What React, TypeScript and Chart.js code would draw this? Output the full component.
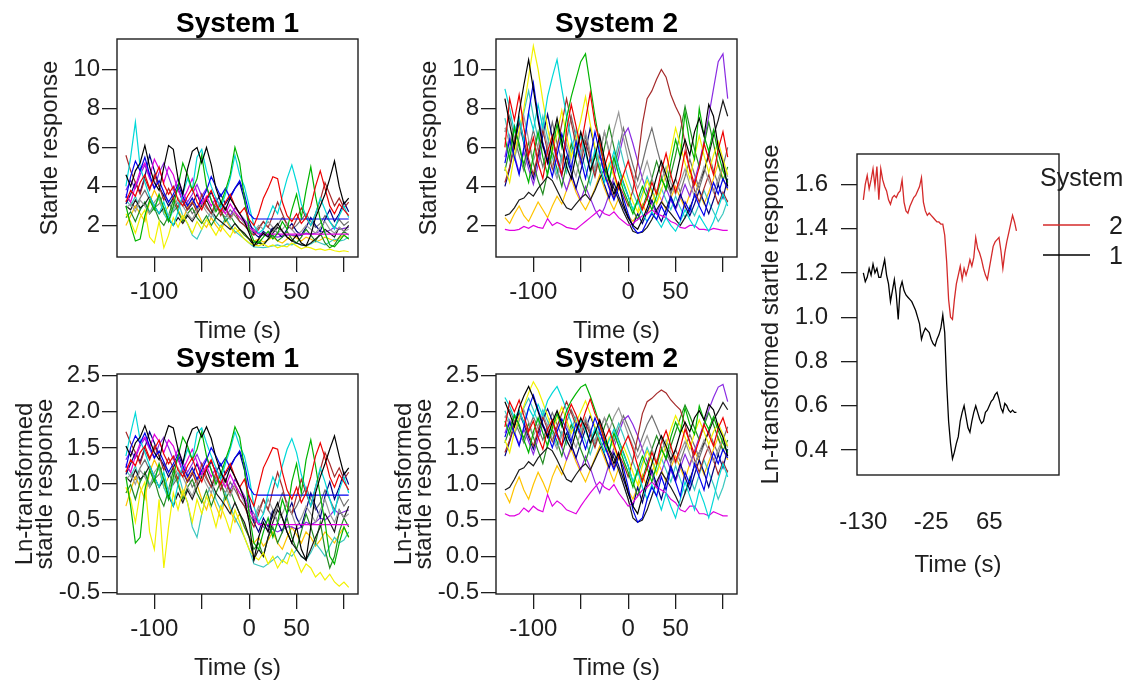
import React, { useEffect, useRef } from 'react';
import { Chart, registerables } from 'chart.js';

Chart.register(...registerables);

const PAGE_W = 1134;
const PAGE_H = 682;
const FONT = "'Liberation Sans', Arial, Helvetica, sans-serif";
const TEXT = '#1e1e1e';

// ---------- time axes ----------
const timePoints = [
  -130, -125, -120, -115, -110, -105, -100, -95, -90, -85, -80, -75, -70, -65, -60, -55,
  -50, -45, -40, -35, -30, -25, -20, -15, -10, -5, 0, 5, 10, 15, 20, 25, 30, 35, 40, 45,
  50, 55, 60, 65, 70, 75, 80, 85, 90, 95, 100, 105,
];

const meanTime = [
  -130, -127, -124, -121, -118, -115, -112, -109, -106, -103, -100, -97, -94, -91, -88, -85,
  -82, -79, -76, -73, -70, -67, -64, -61, -58, -55, -52, -49, -46, -43, -40, -37, -34, -31,
  -28, -25, -22, -19, -16, -13, -10, -7, -4, -1, 2, 5, 8, 11, 14, 17, 20, 23, 26, 29, 32, 35,
  38, 41, 44, 47, 50, 53, 56, 59, 62, 65, 68, 71, 74, 77, 80, 83, 86, 89, 92, 95, 98, 101, 104, 107,
];

// ---------- System 1 subjects (startle response) ----------
const s1_01 = [4.6,4.0,4.8,5.2,6.1,5.0,4.2,3.8,5.0,6.1,5.9,4.4,3.6,4.9,5.8,6.0,5.2,6.0,5.1,3.9,3.2,2.8,3.4,3.0,2.6,2.2,1.6,0.95,1.3,1.6,1.4,1.8,2.1,1.7,1.4,1.2,1.5,1.1,0.95,1.5,2.4,3.0,3.6,4.4,5.3,4.0,3.1,3.4];
const s1_02 = [3.2,3.8,3.5,4.2,4.6,3.9,4.4,5.0,4.1,3.6,4.0,3.3,3.0,3.5,3.9,3.2,2.8,3.4,3.8,3.1,2.7,3.2,3.6,3.0,2.6,2.9,2.3,2.0,2.6,3.4,3.9,4.5,4.4,3.2,2.5,2.2,2.6,2.1,2.4,3.0,4.0,4.8,3.9,3.0,2.6,3.1,2.8,2.5];
const s1_03 = [3.0,2.0,1.2,1.3,2.5,3.3,2.8,3.6,2.9,2.2,3.0,4.0,5.2,4.6,3.8,4.4,5.6,4.0,3.3,2.7,3.1,3.8,4.6,6.0,5.2,3.4,1.8,1.2,1.1,1.4,1.7,1.3,1.6,2.2,1.8,2.8,3.6,2.4,3.8,5.0,3.5,2.3,1.6,1.0,0.9,1.2,1.5,1.3];
const s1_04 = [3.4,4.5,5.3,4.8,5.5,4.6,3.9,4.3,3.7,3.2,3.6,4.1,3.5,3.0,3.4,2.9,3.3,3.8,4.5,4.0,3.5,3.9,3.4,3.9,4.3,3.6,2.6,2.35,2.33,2.33,2.33,2.33,2.33,2.33,2.33,2.33,2.33,2.33,2.33,2.33,2.33,2.33,2.33,2.33,2.33,2.33,2.33,2.33];
const s1_05 = [4.0,5.5,7.3,5.0,4.2,3.5,3.0,2.6,3.2,2.4,2.0,2.7,3.6,4.4,3.8,5.5,5.9,4.8,4.0,3.4,2.9,3.6,4.4,5.6,4.6,4.0,3.0,2.0,1.6,1.8,2.4,3.0,2.6,3.5,4.4,5.1,4.2,3.1,2.5,2.0,2.6,3.4,2.8,2.2,1.8,2.5,3.0,2.4];
const s1_06 = [3.6,3.2,4.0,4.8,5.2,4.5,5.4,4.9,4.2,5.0,4.6,3.8,3.3,3.8,4.4,3.7,3.1,3.5,3.0,3.4,2.9,2.6,3.1,2.7,2.4,2.2,1.9,1.7,1.55,1.55,1.55,1.55,1.55,1.55,1.55,1.55,1.55,1.55,1.55,1.55,1.55,1.55,1.55,1.55,1.55,1.55,1.55,1.55];
const s1_07 = [2.6,2.2,1.6,2.4,2.8,1.4,1.1,2.2,0.85,1.5,2.4,1.9,2.5,2.1,1.6,2.2,1.8,2.3,1.9,1.5,2.0,1.7,1.4,1.9,1.6,1.3,1.1,1.0,0.95,1.05,0.9,1.0,0.85,0.95,0.9,1.1,0.95,0.8,0.9,0.85,0.75,0.8,0.72,0.78,0.7,0.66,0.7,0.65];
const s1_08 = [2.9,3.1,2.7,3.3,3.0,2.6,3.2,3.5,2.8,2.5,2.9,3.4,3.0,2.6,2.3,2.8,3.1,2.7,2.4,2.9,3.2,2.6,2.3,2.7,2.4,2.1,1.9,1.7,2.0,1.8,2.2,1.9,1.6,1.8,2.1,1.8,1.5,1.7,2.0,1.8,1.6,1.9,2.2,1.8,1.6,1.9,1.7,1.8];
const s1_09 = [3.0,2.8,3.3,2.9,3.1,3.5,3.0,2.6,2.9,2.3,2.0,2.4,2.1,2.5,2.2,2.6,3.0,3.3,2.8,2.4,2.2,2.0,1.8,2.1,1.8,1.6,1.3,0.95,1.1,1.0,1.3,1.6,1.9,1.7,1.4,1.2,1.1,1.0,0.95,1.1,1.3,1.5,1.8,1.6,1.4,1.9,1.7,2.0];
const s1_10 = [5.6,4.8,4.2,3.6,4.4,3.8,4.6,4.0,3.3,3.9,3.4,2.9,3.3,2.8,3.2,2.7,3.6,3.0,2.6,3.2,2.5,2.9,2.4,2.7,2.2,2.0,1.7,1.5,1.8,2.2,1.9,2.5,3.2,2.6,2.0,1.8,2.3,2.9,2.4,2.0,2.6,3.3,4.2,3.6,3.0,3.4,2.9,3.2];
const s1_11 = [2.4,2.7,2.2,2.8,3.2,2.6,2.9,2.3,2.0,2.5,3.3,2.7,2.2,2.6,2.9,2.4,2.1,2.5,2.0,2.4,2.8,2.2,2.5,2.1,1.8,1.5,1.3,1.1,1.2,1.0,1.3,1.5,1.2,1.4,1.7,1.3,1.1,1.4,1.8,1.5,1.2,1.6,1.1,0.85,1.0,1.4,1.7,1.5];
const s1_12 = [3.1,3.6,4.2,3.7,4.5,5.6,4.8,4.0,3.5,3.0,3.4,3.9,3.2,2.8,3.1,3.6,3.0,3.3,3.7,3.2,3.6,3.1,3.5,3.9,4.2,3.3,2.2,1.6,1.4,1.7,1.5,1.9,1.6,1.4,1.8,2.1,1.7,1.5,1.9,2.4,2.0,1.7,2.3,2.8,2.2,2.6,3.2,2.7];
const s1_13 = [3.3,3.0,3.5,2.8,3.2,2.7,3.0,3.4,2.6,2.2,2.8,3.2,2.5,2.1,1.5,1.3,1.8,2.3,2.7,2.2,1.9,2.4,2.0,1.7,1.5,1.3,1.1,0.9,0.88,0.86,0.9,0.95,1.0,0.92,1.05,1.0,1.1,1.0,0.95,1.05,1.2,1.1,1.0,1.15,1.3,1.2,1.25,1.4];
const s1_14 = [3.8,4.3,3.9,4.6,5.1,4.4,3.9,4.7,5.2,4.5,3.8,4.4,3.7,3.2,3.6,4.1,3.5,3.9,3.3,2.8,3.2,2.9,2.5,2.9,2.6,2.3,2.0,1.8,1.6,1.5,1.45,1.45,1.4,1.45,1.5,1.5,1.45,1.5,1.6,1.55,1.6,1.7,1.65,1.75,1.9,1.8,1.85,1.9];
const s1_15 = [2.0,2.5,3.0,2.6,2.2,3.2,3.8,3.3,2.6,3.0,3.5,2.8,2.3,2.9,3.4,2.7,2.2,1.9,2.4,2.0,1.7,2.3,1.9,1.6,1.8,1.5,1.3,1.2,1.3,1.15,1.25,1.4,1.2,1.1,1.3,1.5,1.35,1.2,1.4,1.3,1.15,1.25,1.4,1.3,1.2,1.35,1.5,1.3];
const s1_16 = [3.5,3.2,2.9,3.4,3.8,3.3,2.9,3.1,3.6,3.2,2.7,3.0,3.4,3.1,2.6,2.9,3.3,2.9,2.6,3.0,2.7,2.4,2.8,2.5,2.2,2.0,1.8,1.6,1.9,2.2,1.9,1.7,2.0,2.4,2.1,1.8,2.0,2.3,2.6,2.2,1.9,2.1,2.5,2.2,1.9,2.3,2.0,2.2];

// ---------- System 2 subjects (startle response) ----------
const s2_01 = [8.5,7.2,6.0,7.8,9.2,10.5,9.0,7.4,6.1,5.2,6.4,7.5,6.3,5.0,4.4,5.6,6.8,5.9,4.8,5.5,6.6,5.4,4.3,3.6,4.2,3.1,2.4,2.0,1.8,2.3,2.9,3.6,4.5,5.3,4.6,3.8,4.4,5.5,6.4,5.6,6.8,7.5,6.6,8.2,7.6,6.0,5.2,4.0];
const s2_02 = [6.0,8.5,7.4,8.7,7.0,5.6,6.5,5.2,4.4,5.8,6.6,5.4,4.6,6.9,8.2,7.1,6.0,7.4,8.8,7.2,6.3,5.0,5.8,4.7,3.9,4.6,5.3,4.4,3.5,2.8,3.4,4.2,3.6,4.8,5.7,4.6,3.7,4.5,5.8,4.9,4.1,5.0,6.2,5.4,4.6,5.9,6.8,5.5];
const s2_03 = [6.5,5.4,7.0,6.2,5.0,4.2,5.6,6.8,5.5,4.6,5.9,7.2,6.0,7.5,8.6,9.5,10.4,10.8,9.2,7.6,6.2,5.0,4.3,5.5,4.6,3.8,3.2,2.6,3.3,4.0,3.4,2.8,3.5,4.4,3.9,5.2,6.4,5.5,7.8,6.2,5.4,8.0,6.6,5.8,6.9,5.7,4.8,4.2];
const s2_04 = [5.2,6.4,5.5,4.6,6.0,7.8,9.3,7.6,6.2,5.4,4.5,5.6,6.7,5.8,4.9,6.3,5.4,4.4,5.5,6.8,5.7,4.6,3.9,3.3,4.0,3.4,2.6,1.9,1.6,1.7,2.2,2.6,2.3,3.0,2.5,3.4,2.8,2.3,3.2,2.7,3.6,3.0,2.5,3.4,4.2,3.6,4.4,3.9];
const s2_05 = [9.0,8.0,6.8,7.5,6.3,7.8,6.9,8.2,7.0,8.6,9.6,10.5,9.0,7.6,6.4,5.5,6.6,5.7,4.8,5.9,5.1,4.2,5.0,5.8,4.9,4.1,3.5,2.8,3.3,2.6,2.2,2.7,2.3,1.9,2.4,2.0,1.7,2.2,2.8,2.3,1.9,2.5,2.1,1.7,2.2,2.9,3.6,3.0];
const s2_06 = [1.8,1.75,1.75,1.8,1.95,1.85,2.0,1.9,1.85,2.35,2.0,2.15,2.05,1.9,1.85,1.8,2.0,2.2,2.4,2.6,2.8,2.6,2.5,2.7,2.4,2.2,2.0,2.1,2.3,2.5,2.6,2.8,2.6,2.5,2.4,2.2,2.1,1.9,1.85,2.0,2.0,1.8,1.8,1.75,1.85,1.8,1.75,1.75];
const s2_07 = [5.0,4.2,5.6,6.9,8.0,9.6,11.2,10.0,8.4,7.0,5.8,6.7,7.9,6.6,5.5,6.4,7.4,8.6,7.2,6.0,5.0,4.3,5.2,4.5,3.8,4.6,3.9,3.2,2.7,3.5,4.3,3.7,3.1,3.8,4.7,5.8,7.0,6.1,5.2,4.4,5.5,6.6,5.6,4.7,5.6,6.3,5.4,4.6];
const s2_08 = [7.0,6.2,5.4,6.5,7.6,6.4,5.3,6.1,7.2,6.0,5.1,4.4,5.3,6.2,5.2,4.5,5.6,6.8,5.8,4.9,5.7,6.8,5.7,6.9,7.8,6.5,5.4,4.6,3.9,4.5,5.3,4.4,3.7,4.3,5.0,4.2,3.6,4.2,4.9,4.1,3.5,4.2,5.0,4.3,3.7,4.4,5.1,4.5];
const s2_09 = [2.5,2.6,2.9,3.3,3.4,3.7,3.5,3.9,4.2,4.5,4.3,3.8,3.3,2.9,2.8,3.1,3.4,3.6,3.3,3.8,4.4,4.9,4.4,3.9,3.3,2.7,2.2,1.7,1.6,1.65,1.9,2.3,2.8,3.2,2.9,2.6,2.3,2.0,2.4,2.9,3.5,4.2,4.8,5.6,6.6,7.4,8.4,7.6];
const s2_10 = [4.2,5.0,6.3,7.5,6.4,5.4,4.6,5.7,6.9,5.8,4.9,6.0,7.2,8.5,7.3,6.1,5.2,6.3,5.4,4.5,5.6,4.8,4.0,3.4,4.1,3.6,3.0,3.8,5.2,7.2,8.5,8.9,9.5,10.0,9.6,8.7,8.1,7.6,6.2,4.8,3.8,3.2,3.9,4.6,3.8,3.1,3.7,3.2];
const s2_11 = [4.8,5.9,7.1,6.0,5.1,6.3,5.2,4.3,3.6,4.7,5.8,4.9,4.0,5.1,6.2,5.3,4.4,3.7,4.6,5.7,4.8,6.0,7.1,6.0,5.0,4.2,3.5,2.8,2.3,2.9,3.6,4.4,5.3,4.5,3.8,4.6,5.6,6.8,8.1,7.0,5.9,5.0,6.1,7.3,6.2,5.1,4.3,5.0];
const s2_12 = [4.0,4.9,6.1,7.3,6.2,5.2,4.4,5.5,6.6,7.7,6.5,5.5,4.6,5.5,4.7,3.9,4.8,5.8,7.0,5.9,4.9,4.1,3.4,4.2,3.5,2.9,2.4,2.0,2.6,2.1,2.7,3.3,2.7,2.2,2.8,3.5,2.9,3.6,3.0,2.5,3.1,3.8,3.2,2.6,3.3,4.1,3.4,4.4];
const s2_13 = [7.5,6.4,5.4,6.6,7.8,8.9,7.6,6.4,7.6,6.5,5.5,4.6,5.6,4.7,5.8,6.9,5.8,4.9,4.1,5.0,6.1,5.1,4.3,5.2,6.3,5.3,4.4,3.7,3.1,3.7,4.5,3.8,3.2,3.9,3.3,2.8,3.5,2.9,2.4,3.0,2.5,3.1,3.8,3.2,2.7,2.2,2.6,3.3];
const s2_14 = [5.5,6.6,5.6,4.7,5.8,4.9,4.1,5.1,6.2,5.2,6.3,5.3,4.5,3.8,4.6,3.9,3.3,4.0,3.4,2.8,2.4,2.9,3.6,4.5,5.5,6.6,7.0,6.2,5.3,4.4,3.7,3.1,2.6,3.2,3.9,3.3,2.8,3.4,4.1,3.5,4.3,5.2,6.3,7.6,9.0,10.4,10.8,8.5];
const s2_15 = [2.4,2.1,2.6,3.0,2.5,2.2,2.7,3.2,2.8,2.4,3.0,3.5,3.1,3.8,4.4,3.7,3.2,2.8,3.3,3.9,4.6,3.9,3.3,2.8,3.4,2.9,2.5,2.2,2.6,3.1,2.6,3.2,3.8,3.3,2.8,3.4,4.0,3.4,2.9,3.6,4.3,3.7,3.1,3.7,4.4,5.2,4.4,3.8];
const s2_16 = [6.8,7.6,6.5,5.6,4.8,5.8,6.9,5.9,5.0,6.1,7.3,6.2,5.3,6.4,7.6,6.5,5.5,6.6,5.6,4.7,5.7,6.8,5.8,4.9,5.9,7.0,6.0,5.1,4.3,5.2,6.2,7.0,6.0,5.1,4.3,3.6,4.4,3.7,4.5,5.4,4.6,3.9,4.7,5.7,4.8,4.1,5.0,6.0];

// ---------- group means of ln-transformed response ----------
const meanSystem2 = [1.53,1.60,1.64,1.58,1.62,1.67,1.59,1.68,1.53,1.67,1.62,1.59,1.57,1.53,1.51,1.54,1.55,1.54,1.56,1.57,1.62,1.52,1.48,1.47,1.50,1.52,1.54,1.55,1.57,1.59,1.63,1.52,1.48,1.46,1.47,1.46,1.45,1.44,1.43,1.43,1.42,1.42,1.37,1.25,1.08,1.00,0.99,1.08,1.15,1.19,1.23,1.17,1.22,1.19,1.22,1.26,1.23,1.27,1.36,1.31,1.29,1.26,1.22,1.19,1.17,1.22,1.27,1.32,1.34,1.35,1.36,1.30,1.22,1.29,1.34,1.38,1.42,1.46,1.43,1.39];
const meanSystem1 = [1.20,1.16,1.18,1.22,1.19,1.24,1.20,1.22,1.18,1.18,1.22,1.26,1.19,1.15,1.07,1.12,1.17,1.10,0.99,1.13,1.16,1.12,1.10,1.09,1.08,1.07,1.05,1.03,1.00,0.97,0.90,0.93,0.95,0.94,0.93,0.90,0.88,0.87,0.90,0.92,0.95,1.01,0.93,0.70,0.53,0.43,0.36,0.39,0.43,0.46,0.53,0.57,0.60,0.55,0.50,0.48,0.53,0.57,0.60,0.57,0.54,0.52,0.53,0.57,0.58,0.60,0.62,0.63,0.65,0.66,0.63,0.59,0.57,0.61,0.60,0.58,0.57,0.58,0.57,0.57];

const system1Subjects = [s1_01, s1_02, s1_03, s1_04, s1_05, s1_06, s1_07, s1_08, s1_09, s1_10, s1_11, s1_12, s1_13, s1_14, s1_15, s1_16];
const system2Subjects = [s2_01, s2_02, s2_03, s2_04, s2_05, s2_06, s2_07, s2_08, s2_09, s2_10, s2_11, s2_12, s2_13, s2_14, s2_15, s2_16];

const subjectColors = [
  '#000000', '#ee0000', '#00b400', '#0000ee', '#00d8d8', '#e000e0', '#f2f200', '#9a9a9a',
  '#1a1a1a', '#a52a2a', '#228b22', '#000080', '#3cc8c0', '#8a2be2', '#ffc400', '#707070',
];

// ---------- tick labels ----------
const spaghettiXTicks = [-100, -50, 0, 50, 100];
const spaghettiXLabels = ['-100', '', '0', '50', ''];
const rawYTicks = [2, 4, 6, 8, 10];
const lnYTicks = [-0.5, 0, 0.5, 1, 1.5, 2, 2.5];
const meanXTicks = [-130, -25, 65];
const meanXLabels = ['-130', '-25', '65'];
const meanYTicks = [0.4, 0.6, 0.8, 1.0, 1.2, 1.4, 1.6];
const legendTitle = 'System';
const legendLabels = ['2', '1'];
const legendColors = ['#d42a2a', '#000000'];

type Spec = {
  box: [number, number, number, number];
  datasets: any[];
  xMin: number; xMax: number; yMin: number; yMax: number;
  xTicks: number[]; xLabels: string[];
  yTicks: number[]; yFmt: (v: number) => string;
  xTickLen: number; xTickPad: number; xAxisH: number; xTitlePad: number;
  yTickLen: number; yTickPad: number; yAxisW: number; yTitlePad: number;
  yTitle: string | string[]; yTitleLH: number;
  title?: string; legend?: boolean;
};

const font = (size: number, lineHeight = 1) => ({ family: FONT, size, lineHeight });

function spaghettiSets(series: number[][], transform?: (v: number) => number) {
  return series.map((ys, i) => ({
    data: timePoints.map((t, j) => ({ x: t, y: transform ? transform(ys[j]) : ys[j] })),
    borderColor: subjectColors[i % subjectColors.length],
    borderWidth: 1.2,
    pointRadius: 0,
    tension: 0,
    fill: false,
  }));
}

function buildConfig(p: Spec): any {
  const [L, T, R, B] = p.box;
  const decor = {
    id: 'decor',
    afterDraw(chart: any) {
      const { ctx, chartArea: a } = chart;
      ctx.save();
      ctx.strokeStyle = TEXT;
      ctx.lineWidth = 1.4;
      ctx.strokeRect(a.left, a.top, a.right - a.left, a.bottom - a.top);
      if (p.title) {
        ctx.font = `bold 28px ${FONT}`;
        ctx.fillStyle = '#000';
        ctx.textAlign = 'center';
        ctx.textBaseline = 'middle';
        ctx.fillText(p.title, (a.left + a.right) / 2, a.top - 15);
      }
      if (p.legend) {
        ctx.font = `25px ${FONT}`;
        ctx.fillStyle = TEXT;
        ctx.textAlign = 'left';
        ctx.textBaseline = 'middle';
        ctx.fillText(legendTitle, 1040, 179);
        const ys = [225, 255];
        legendLabels.forEach((lab, i) => {
          ctx.strokeStyle = legendColors[i];
          ctx.lineWidth = 1.3;
          ctx.beginPath();
          ctx.moveTo(1043, ys[i]);
          ctx.lineTo(1090, ys[i]);
          ctx.stroke();
          ctx.fillStyle = TEXT;
          ctx.fillText(lab, 1109, ys[i] + 2);
        });
      }
      ctx.restore();
    },
  };
  return {
    type: 'line',
    data: { datasets: p.datasets },
    options: {
      responsive: false,
      animation: false,
      devicePixelRatio: 1,
      layout: {
        padding: { left: L - p.yAxisW, top: T, right: PAGE_W - R, bottom: PAGE_H - B - p.xAxisH },
      },
      plugins: { legend: { display: false }, tooltip: { enabled: false }, title: { display: false } },
      elements: { point: { radius: 0 } },
      scales: {
        x: {
          type: 'linear',
          position: 'bottom',
          min: p.xMin,
          max: p.xMax,
          afterBuildTicks: (s: any) => { s.ticks = p.xTicks.map((v) => ({ value: v })); },
          afterFit: (s: any) => { s.height = p.xAxisH; },
          ticks: {
            autoSkip: false, maxRotation: 0, minRotation: 0,
            padding: p.xTickPad, color: TEXT, font: font(24),
            callback: (_v: any, i: number) => p.xLabels[i] ?? '',
          },
          grid: {
            display: p.xTickLen > 0, drawOnChartArea: false, drawTicks: p.xTickLen > 0,
            tickLength: p.xTickLen, color: TEXT, lineWidth: 1.3,
          },
          border: { display: false },
          title: { display: true, text: 'Time (s)', color: TEXT, font: font(24), padding: { top: 0, bottom: p.xTitlePad } },
        },
        y: {
          type: 'linear',
          position: 'left',
          min: p.yMin,
          max: p.yMax,
          afterBuildTicks: (s: any) => { s.ticks = p.yTicks.map((v) => ({ value: v })); },
          afterFit: (s: any) => { s.width = p.yAxisW; },
          ticks: {
            autoSkip: false, padding: p.yTickPad, color: TEXT, font: font(24),
            callback: (v: any) => p.yFmt(Number(v)),
          },
          grid: {
            display: true, drawOnChartArea: false, drawTicks: true,
            tickLength: p.yTickLen, color: TEXT, lineWidth: 1.3,
          },
          border: { display: false },
          title: {
            display: true, text: p.yTitle, color: TEXT, font: font(24, p.yTitleLH),
            padding: { top: p.yTitlePad, bottom: 0 },
          },
        },
      },
    },
    plugins: [decor],
  };
}

const X_MIN = -139.4;
const X_MAX = 114.8;
const intFmt = (v: number) => String(Math.round(v));
const oneDec = (v: number) => v.toFixed(1);

const common = {
  xMin: X_MIN, xMax: X_MAX,
  xTicks: spaghettiXTicks, xLabels: spaghettiXLabels,
  xTickLen: 15, xTickPad: 8, xAxisH: 88, xTitlePad: 2,
  yTickLen: 15, yTickPad: 2,
};

const specs: Spec[] = [
  {
    ...common, box: [117, 39, 358, 257],
    datasets: spaghettiSets(system1Subjects),
    yMin: 0.38, yMax: 11.56, yTicks: rawYTicks, yFmt: intFmt,
    yAxisW: 100, yTitlePad: 21, yTitle: 'Startle response', yTitleLH: 1, title: 'System 1',
  },
  {
    ...common, box: [496, 39, 737, 257],
    datasets: spaghettiSets(system2Subjects),
    yMin: 0.38, yMax: 11.56, yTicks: rawYTicks, yFmt: intFmt,
    yAxisW: 100, yTitlePad: 21, yTitle: 'Startle response', yTitleLH: 1, title: 'System 2',
  },
  {
    ...common, box: [117, 374, 358, 594],
    datasets: spaghettiSets(system1Subjects, Math.log),
    yMin: -0.523, yMax: 2.523, yTicks: lnYTicks, yFmt: oneDec,
    yAxisW: 110, yTitlePad: 8, yTitle: ['Ln-transformed', 'startle response'], yTitleLH: 0.85, title: 'System 1',
  },
  {
    ...common, box: [496, 374, 737, 594],
    datasets: spaghettiSets(system2Subjects, Math.log),
    yMin: -0.523, yMax: 2.523, yTicks: lnYTicks, yFmt: oneDec,
    yAxisW: 110, yTitlePad: 8, yTitle: ['Ln-transformed', 'startle response'], yTitleLH: 0.85, title: 'System 2',
  },
  {
    box: [857, 154, 1059, 475],
    datasets: [
      { data: meanTime.map((t, i) => ({ x: t, y: meanSystem2[i] })), borderColor: legendColors[0], borderWidth: 1.3, pointRadius: 0, tension: 0 },
      { data: meanTime.map((t, i) => ({ x: t, y: meanSystem1[i] })), borderColor: legendColors[1], borderWidth: 1.3, pointRadius: 0, tension: 0 },
    ],
    xMin: -139.8, xMax: 172.9, yMin: 0.287, yMax: 1.737,
    xTicks: meanXTicks, xLabels: meanXLabels, yTicks: meanYTicks, yFmt: oneDec,
    xTickLen: 0, xTickPad: 35, xAxisH: 110, xTitlePad: 8,
    yTickLen: 16, yTickPad: 13, yAxisW: 110, yTitlePad: 12,
    yTitle: 'Ln-transformed startle response', yTitleLH: 1, legend: true,
  },
];

function Panel({ spec }: { spec: Spec }) {
  const ref = useRef<HTMLCanvasElement>(null);
  useEffect(() => {
    if (!ref.current) return;
    const chart = new Chart(ref.current, buildConfig(spec));
    return () => chart.destroy();
  }, [spec]);
  return (
    <canvas
      ref={ref}
      width={PAGE_W}
      height={PAGE_H}
      style={{ position: 'absolute', left: 0, top: 0, width: PAGE_W, height: PAGE_H }}
    />
  );
}

export default function App() {
  return (
    <div style={{ position: 'absolute', left: 0, top: 0, width: PAGE_W, height: PAGE_H, background: '#fff', overflow: 'hidden' }}>
      {specs.map((s, i) => (
        <Panel key={i} spec={s} />
      ))}
    </div>
  );
}
